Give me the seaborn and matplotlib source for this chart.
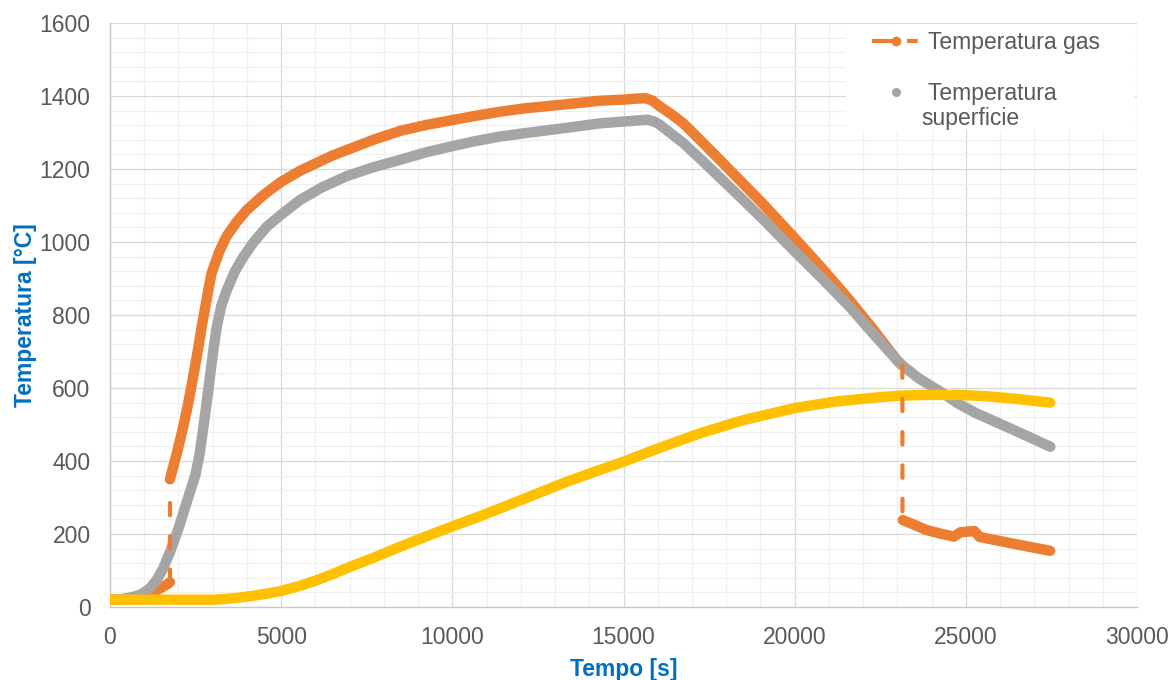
import matplotlib
matplotlib.use("Agg")
import matplotlib.pyplot as plt
from matplotlib.lines import Line2D
from matplotlib.patches import Rectangle
from matplotlib.ticker import MultipleLocator
import seaborn as sns
import pandas as pd

# ---------------- data ----------------
# Temperatura gas: before the first jump
gas_pre_t = [0, 400, 800, 1100, 1300, 1500, 1650, 1750]
gas_pre_T = [20, 21, 26, 35, 43, 53, 61, 68]
# Temperatura gas: heating / cooling branch
gas_main_t = [1750, 1950, 2140, 2300, 2430, 2560, 2680, 2780, 2870, 2970, 3070, 3200,
              3400, 3700, 4000, 4500, 5000, 5550, 6000, 6500, 7000, 7750, 8500, 9250,
              10000, 10700, 11400, 12100, 12850, 13600, 14300, 15000, 15400, 15650,
              15850, 16070, 16400, 16750, 17530, 18200, 19100, 19960, 20800, 21600,
              22300, 22980, 23140]
gas_main_T = [350, 420, 494, 565, 631, 700, 768, 820, 868, 915, 942, 975,
              1015, 1055, 1088, 1130, 1165, 1195, 1215, 1237, 1255, 1282, 1305, 1321,
              1334, 1346, 1357, 1366, 1373, 1380, 1387, 1390, 1393, 1394,
              1387, 1371, 1350, 1325, 1252, 1188, 1102, 1015, 928, 841,
              760, 677, 662]
# Temperatura gas: after the second jump
gas_post_t = [23160, 23500, 23850, 24300, 24650, 24850, 25250, 25400, 26300, 27460]
gas_post_T = [238, 225, 211, 200, 193, 205, 208, 192, 175, 154]
# jumps (drawn dashed)
jump1_t = [1750, 1750]
jump1_T = [68, 350]
jump2_t = [23145, 23150]
jump2_T = [662, 238]

# Temperatura superficie
surf_t = [0, 300, 600, 900, 1150, 1350, 1550, 1750, 2000, 2250, 2490, 2620, 2730,
          2830, 2920, 3020, 3120, 3250, 3410, 3650, 3900, 4200, 4580, 5000, 5550,
          6200, 6900, 7700, 8470, 9200, 9930, 10650, 11400, 12100, 12850, 13600,
          14300, 15000, 15700, 15900, 16050, 16350, 16750, 17500, 18200, 19100,
          19960, 20800, 21600, 22300, 23070, 23600, 24340, 24800, 25300, 25850,
          26400, 27470]
surf_T = [20, 21, 26, 34, 50, 72, 105, 150, 215, 290, 360, 420, 494,
          565, 631, 705, 768, 825, 868, 920, 960, 1000, 1042, 1075, 1115,
          1150, 1180, 1205, 1225, 1245, 1261, 1276, 1289, 1298, 1307, 1316,
          1325, 1330, 1335, 1330, 1322, 1300, 1271, 1205, 1142, 1060,
          978, 900, 823, 748, 668, 628, 585, 556, 531, 508,
          485, 439]

# third series (yellow, not in legend)
third_t = [0, 1000, 2000, 3000, 3400, 3800, 4200, 4600, 5000, 5550, 6000, 6500, 7010,
           7700, 8470, 9200, 9980, 10700, 11390, 12300, 13340, 14200, 15000, 16000,
           17235, 18500, 20000, 21200, 22500, 23070, 23800, 24830, 25500, 26290, 27460]
third_T = [20, 20, 20, 20, 22, 26, 31, 37, 44, 58, 72, 90, 110,
           135, 165, 192, 220, 245, 270, 304, 343, 372, 398, 434,
           476, 512, 545, 563, 575, 579, 581, 581, 578, 572, 560]

x_ticks = [0, 5000, 10000, 15000, 20000, 25000, 30000]
y_ticks = [0, 200, 400, 600, 800, 1000, 1200, 1400, 1600]
legend_labels = [" Temperatura gas", " Temperatura", "superficie"]
x_label = "Tempo [s]"
y_label = "Temperatura [°C]"

# ---------------- style ----------------
ORANGE = "#ED7D31"
GRAY = "#A5A5A5"
YELLOW = "#FFC000"
BLUE = "#0070C0"
TICK = "#595959"
FS = 16.5

sns.set_theme(style="white")
plt.rcParams["font.family"] = ["Liberation Sans", "DejaVu Sans"]

fig = plt.figure(figsize=(11.73, 6.8), dpi=100)
ax = fig.add_axes([110 / 1173, 73 / 680, 1027 / 1173, 584 / 680])

LW = 7.5
common = dict(ax=ax, sort=False, estimator=None, legend=False)
round_kw = dict(solid_capstyle="round", solid_joinstyle="round")

def seg(t, T):
    return pd.DataFrame({"t": t, "T": T})

sns.lineplot(data=seg(gas_pre_t, gas_pre_T), x="t", y="T", color=ORANGE,
             linewidth=LW, zorder=3, **common, **round_kw)
sns.lineplot(data=seg(gas_main_t, gas_main_T), x="t", y="T", color=ORANGE,
             linewidth=LW, zorder=3, **common, **round_kw)
sns.lineplot(data=seg(gas_post_t, gas_post_T), x="t", y="T", color=ORANGE,
             linewidth=LW, zorder=3, **common, **round_kw)
sns.lineplot(data=seg(surf_t, surf_T), x="t", y="T", color=GRAY,
             linewidth=LW, zorder=4, **common, **round_kw)
sns.lineplot(data=seg(third_t, third_T), x="t", y="T", color=YELLOW,
             linewidth=LW, zorder=5, **common, **round_kw)
for jt, jT in [(jump1_t, jump1_T), (jump2_t, jump2_T)]:
    sns.lineplot(data=seg(jt, jT), x="t", y="T", color=ORANGE, linewidth=3,
                 linestyle=(0, (3, 5)), dash_capstyle="round", zorder=6, **common)

# ---------------- axes ----------------
ax.set_xlim(0, 30000)
ax.set_ylim(0, 1600)
ax.set_xticks(x_ticks)
ax.set_yticks(y_ticks)
ax.xaxis.set_minor_locator(MultipleLocator(1000))
ax.yaxis.set_minor_locator(MultipleLocator(40))
ax.grid(which="major", color="#D9D9D9", linewidth=0.9, zorder=0)
ax.grid(which="minor", color="#F0F0F0", linewidth=0.9, zorder=0)
ax.set_axisbelow(True)
ax.tick_params(which="both", length=0)
ax.tick_params(axis="x", labelsize=FS, labelcolor=TICK, pad=14)
ax.tick_params(axis="y", labelsize=FS, labelcolor=TICK, pad=14)
for s in ["top", "right"]:
    ax.spines[s].set_visible(False)
for s in ["left", "bottom"]:
    ax.spines[s].set_color("#C8C8C8")
    ax.spines[s].set_linewidth(1.0)

ax.set_xlabel(x_label, fontsize=FS, fontweight="bold", color=BLUE, labelpad=6)
ax.set_ylabel(y_label, fontsize=FS, fontweight="bold", color=BLUE, labelpad=2)

# ---------------- legend ----------------
ax.add_patch(Rectangle((0.7167, 0.8168), 0.2813, 0.1815, transform=ax.transAxes,
                       facecolor="white", edgecolor="none", zorder=7))
h_gas = Line2D([], [], color=ORANGE, linewidth=3, linestyle=(0, (5, 3.4, 2.6, 20)),
               marker="o", markersize=6, markerfacecolor=ORANGE, markeredgecolor=ORANGE)
h_surf = Line2D([], [], linestyle="none", marker="o", markersize=5.5,
                markerfacecolor=GRAY, markeredgecolor=GRAY)
h_blank = Line2D([], [], linestyle="none")
leg = ax.legend([h_gas, h_blank, h_surf, h_blank],
                [legend_labels[0], " ", legend_labels[1], legend_labels[2]],
                loc="upper left", bbox_to_anchor=(0.742, 0.987), frameon=False,
                fontsize=FS, borderpad=0, borderaxespad=0, handlelength=2.05,
                handletextpad=0.12, labelspacing=0.11, numpoints=1)
leg.set_zorder(8)
for t in leg.get_texts():
    t.set_color(TICK)

fig.savefig("out.png", dpi=100)
